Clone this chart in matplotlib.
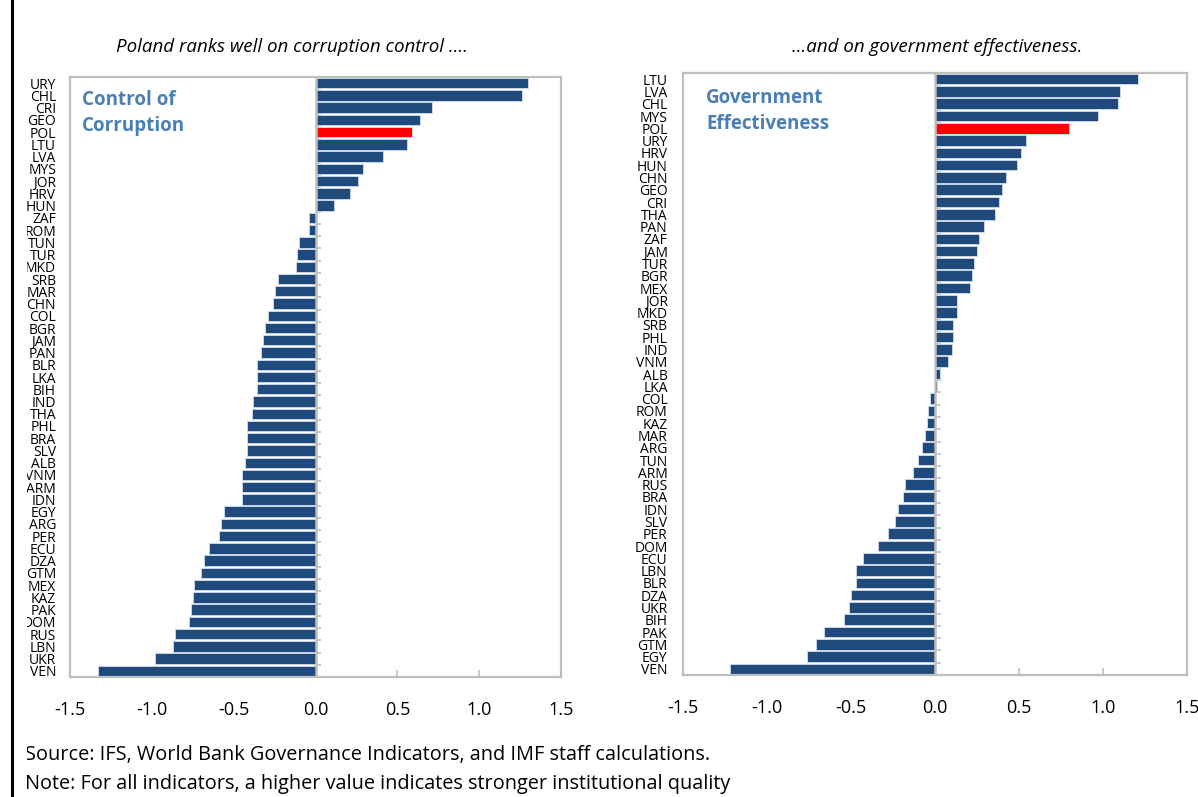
import matplotlib.pyplot as plt
import numpy as np
from matplotlib.patches import Rectangle
from matplotlib.lines import Line2D

plt.rcParams["font.family"] = ["Open Sans", "DejaVu Sans"]

# Control of corruption (top to bottom)
cc_countries = [
    "URY", "CHL", "CRI", "GEO", "POL", "LTU", "LVA", "MYS", "JOR", "HRV",
    "HUN", "ZAF", "ROM", "TUN", "TUR", "MKD", "SRB", "MAR", "CHN", "COL",
    "BGR", "JAM", "PAN", "BLR", "LKA", "BIH", "IND", "THA", "PHL", "BRA",
    "SLV", "ALB", "VNM", "ARM", "IDN", "EGY", "ARG", "PER", "ECU", "DZA",
    "GTM", "MEX", "KAZ", "PAK", "DOM", "RUS", "LBN", "UKR", "VEN",
]
cc_values = [
    1.30, 1.26, 0.71, 0.64, 0.59, 0.56, 0.41, 0.29, 0.26, 0.21,
    0.11, -0.04, -0.04, -0.10, -0.11, -0.12, -0.23, -0.25, -0.26, -0.29,
    -0.31, -0.32, -0.33, -0.36, -0.36, -0.36, -0.38, -0.39, -0.42, -0.42,
    -0.42, -0.43, -0.45, -0.45, -0.45, -0.56, -0.58, -0.59, -0.65, -0.68,
    -0.70, -0.74, -0.75, -0.76, -0.77, -0.86, -0.87, -0.98, -1.33,
]

# Government effectiveness (top to bottom)
ge_countries = [
    "LTU", "LVA", "CHL", "MYS", "POL", "URY", "HRV", "HUN", "CHN", "GEO",
    "CRI", "THA", "PAN", "ZAF", "JAM", "TUR", "BGR", "MEX", "JOR", "MKD",
    "SRB", "PHL", "IND", "VNM", "ALB", "LKA", "COL", "ROM", "KAZ", "MAR",
    "ARG", "TUN", "ARM", "RUS", "BRA", "IDN", "SLV", "PER", "DOM", "ECU",
    "LBN", "BLR", "DZA", "UKR", "BIH", "PAK", "GTM", "EGY", "VEN",
]
ge_values = [
    1.21, 1.10, 1.09, 0.97, 0.80, 0.54, 0.51, 0.49, 0.42, 0.40,
    0.38, 0.36, 0.29, 0.26, 0.25, 0.23, 0.22, 0.21, 0.13, 0.13,
    0.11, 0.11, 0.10, 0.08, 0.03, 0.01, -0.03, -0.04, -0.05, -0.06,
    -0.08, -0.10, -0.13, -0.18, -0.19, -0.22, -0.24, -0.28, -0.34, -0.43,
    -0.47, -0.47, -0.50, -0.51, -0.54, -0.66, -0.71, -0.76, -1.22,
]

x_ticks = [-1.5, -1.0, -0.5, 0.0, 0.5, 1.0, 1.5]
highlight = "POL"

BLUE = "#214a7c"
RED = "#ff0000"
GRID = "#bfbfbf"
TITLE_BLUE = "#4a7fb5"

W, H = 1198, 797
fig = plt.figure(figsize=(W / 100, H / 100), dpi=100)


def px_axes(left, top, right, bottom):
    return fig.add_axes([left / W, 1 - bottom / H, (right - left) / W, (bottom - top) / H])


def fig_xy(x, y):
    return x / W, 1 - y / H


def draw_panel(ax, countries, values, label_pad):
    n = len(countries)
    y = np.arange(n)
    colors = [RED if c == highlight else BLUE for c in countries]
    ax.barh(y, values, height=0.85, color=colors, edgecolor="#c9d6e8",
            linewidth=0.7, zorder=2)
    ax.set_ylim(n - 0.5, -0.5)
    ax.set_xlim(-1.5, 1.5)

    ax.set_yticks(y)
    ax.set_yticklabels(countries, fontsize=10)
    ax.tick_params(axis="y", length=0, pad=label_pad)

    ax.set_xticks(x_ticks)
    ax.set_xticklabels([f"{t:.1f}" for t in x_ticks], fontsize=13)
    ax.tick_params(axis="x", direction="in", length=5, width=1.2,
                   color=GRID, pad=17)

    for s in ax.spines.values():
        s.set_color(GRID)
        s.set_linewidth(1.6)

    # zero line with short ticks between the categories
    ax.axvline(0, color=GRID, lw=1.8, zorder=3)
    ax.hlines(np.arange(n + 1) - 0.5, 0, 0.035, color=GRID, lw=1.2, zorder=1)


ax1 = px_axes(70, 77, 561, 677)
draw_panel(ax1, cc_countries, cc_values, 10)

ax2 = px_axes(683, 73, 1187, 675)
draw_panel(ax2, ge_countries, ge_values, 11)

# panel headings inside the plot area
for (x, y), line in [((82, 105), "Control of"), ((82, 131), "Corruption"),
                     ((706, 103), "Government"), ((706, 129), "Effectiveness")]:
    fig.text(*fig_xy(x, y), line, fontsize=13.5, fontweight="bold",
             color=TITLE_BLUE, ha="left", va="baseline")

fig.text(*fig_xy(292, 47), "Poland ranks well on corruption control ....",
         style="italic", fontsize=13.5, ha="center", va="center")
fig.text(*fig_xy(937, 47), "...and on government effectiveness.",
         style="italic", fontsize=13.5, ha="center", va="center")

fig.text(*fig_xy(25, 755),
         "Source: IFS, World Bank Governance Indicators, and IMF staff calculations.",
         fontsize=14.3, ha="left", va="center")
fig.text(*fig_xy(25, 784),
         "Note: For all indicators, a higher value indicates stronger institutional quality",
         fontsize=14.3, ha="left", va="center")

# outer box edge on the left; labels are cut off short of it
fig.add_artist(Rectangle((0, 0), 27 / W, 1, transform=fig.transFigure,
                         facecolor="white", edgecolor="none", zorder=10))
fig.add_artist(Line2D([12 / W, 12 / W], [0, 1], transform=fig.transFigure,
                      color="black", lw=2.2, zorder=11))

fig.savefig("out.png", dpi=100)
